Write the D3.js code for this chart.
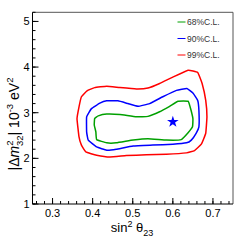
<!DOCTYPE html>
<html><head><meta charset="utf-8">
<script src="https://cdn.jsdelivr.net/npm/d3@7"></script>
<style>body{margin:0;background:#fff}svg{display:block}text{font-family:"Liberation Sans",Arial,sans-serif}</style>
</head><body><svg id="c" width="247" height="243"></svg>
<script>
const xTicks = [0.3, 0.4, 0.5, 0.6, 0.7];
const yTicks = [1, 2, 3, 4, 5];
const legendLabels = ["68%C.L.", "90%C.L.", "99%C.L."];
const contour68 = [[0.405,2.87],[0.414,2.93],[0.435,2.97],[0.468,2.96],[0.509,2.91],[0.538,2.92],[0.567,3.02],[0.592,3.14],[0.613,3.25],[0.638,3.25],[0.643,3.13],[0.650,2.87],[0.649,2.69],[0.638,2.56],[0.621,2.41],[0.584,2.40],[0.538,2.43],[0.501,2.40],[0.459,2.34],[0.435,2.34],[0.410,2.41],[0.408,2.58],[0.404,2.73]];
const contour90 = [[0.385,2.91],[0.397,3.09],[0.418,3.21],[0.435,3.26],[0.463,3.26],[0.488,3.20],[0.513,3.14],[0.542,3.20],[0.575,3.35],[0.609,3.49],[0.635,3.53],[0.650,3.43],[0.662,3.27],[0.665,3.05],[0.665,2.69],[0.658,2.55],[0.646,2.40],[0.634,2.34],[0.600,2.31],[0.550,2.29],[0.501,2.27],[0.459,2.20],[0.435,2.18],[0.410,2.25],[0.389,2.40],[0.385,2.58]];
const contour99 = [[0.372,3.35],[0.386,3.48],[0.405,3.55],[0.435,3.58],[0.468,3.55],[0.509,3.52],[0.538,3.54],[0.567,3.64],[0.600,3.78],[0.638,3.93],[0.662,3.88],[0.673,3.64],[0.682,3.27],[0.685,2.91],[0.682,2.55],[0.671,2.31],[0.654,2.17],[0.634,2.12],[0.584,2.09],[0.534,2.08],[0.484,2.06],[0.443,2.03],[0.410,2.07],[0.383,2.14],[0.372,2.29],[0.366,2.47],[0.361,2.87],[0.366,3.13]];
const bestFit = [0.6, 2.8];
const colors = ["#00a000", "#0000ff", "#ff0000"];

const svg = d3.select("#c");
const x = d3.scaleLinear().domain([0.25, 0.75]).range([32.5, 233]);
const y = d3.scaleLinear().domain([1, 5.2]).range([204, 12.3]);

svg.append("path").attr("d", `M${x(0.25)},${y(5.2)}H${x(0.75)}V${y(1)}`).attr("fill","none").attr("stroke","#555").attr("stroke-width",1);

const xMinor = d3.range(0.26, 0.7501, 0.02);
const yMinor = d3.range(1, 5.2001, 0.2);
const gx = svg.append("g").attr("transform", `translate(0,${y(1)})`);
gx.append("line").attr("x1", x(0.25)).attr("x2", x(0.75)).attr("stroke","#000");
gx.selectAll(".mn").data(xMinor).join("line").attr("x1", d=>x(d)).attr("x2", d=>x(d)).attr("y1",0).attr("y2",-3).attr("stroke","#000");
gx.selectAll(".mj").data(xTicks).join("line").attr("x1", d=>x(d)).attr("x2", d=>x(d)).attr("y1",0).attr("y2",-6).attr("stroke","#000");
gx.selectAll("text").data(xTicks).join("text").attr("x", d=>x(d)).attr("y", 13).attr("text-anchor","middle").attr("font-size",11).text(d=>d.toFixed(1));

const gy = svg.append("g").attr("transform", `translate(${x(0.25)},0)`);
gy.append("line").attr("y1", y(1)).attr("y2", y(5.2)).attr("stroke","#000");
gy.selectAll(".mn").data(yMinor).join("line").attr("y1", d=>y(d)).attr("y2", d=>y(d)).attr("x1",0).attr("x2",3).attr("stroke","#000");
gy.selectAll(".mj").data(yTicks).join("line").attr("y1", d=>y(d)).attr("y2", d=>y(d)).attr("x1",0).attr("x2",6).attr("stroke","#000");
gy.selectAll("text").data(yTicks).join("text").attr("x", -3).attr("y", d=>y(d)+4).attr("text-anchor","end").attr("font-size",11).text(d=>d);

const line = d3.line().x(d=>x(d[0])).y(d=>y(d[1])).curve(d3.curveCardinalClosed.tension(0.7));
[contour68, contour90, contour99].forEach((c,i)=>{
  svg.append("path").attr("d", line(c)).attr("fill","none").attr("stroke",colors[i]).attr("stroke-width",1.5);
});

svg.append("path").attr("d", d3.symbol(d3.symbolStar, 42)()).attr("transform", `translate(${x(bestFit[0])},${y(bestFit[1])})`).attr("fill","#0000ff");

legendLabels.forEach((t,i)=>{
  const ly = 22 + i*16.5;
  svg.append("line").attr("x1",177.5).attr("x2",185.5).attr("y1",ly).attr("y2",ly).attr("stroke",colors[i]).attr("stroke-width",1);
  svg.append("text").attr("x",187).attr("y",ly+3).attr("font-size",8.5).attr("fill","#333").text(t);
});

const xt = svg.append("text").attr("x",132).attr("y",232).attr("text-anchor","middle").attr("font-size",13);
xt.append("tspan").text("sin");
xt.append("tspan").attr("dy",-5).attr("font-size",9).text("2");
xt.append("tspan").attr("dy",5).text(" θ");
xt.append("tspan").attr("dy",4).attr("font-size",9).text("23");

const yt = svg.append("text").attr("transform","translate(19,124) rotate(-90)").attr("text-anchor","middle").attr("font-size",14);
yt.append("tspan").text("|Δ");
yt.append("tspan").attr("font-style","italic").text("m");
yt.append("tspan").attr("dy",-6).attr("font-size",9.5).text("2");
yt.append("tspan").attr("dx",-5.5).attr("dy",10).attr("font-size",9.5).text("32");
yt.append("tspan").attr("dy",-4).text("| 10");
yt.append("tspan").attr("dy",-6).attr("font-size",9.5).text("-3");
yt.append("tspan").attr("dy",6).text(" eV");
yt.append("tspan").attr("dy",-6).attr("font-size",9.5).text("2");
</script></body></html>
